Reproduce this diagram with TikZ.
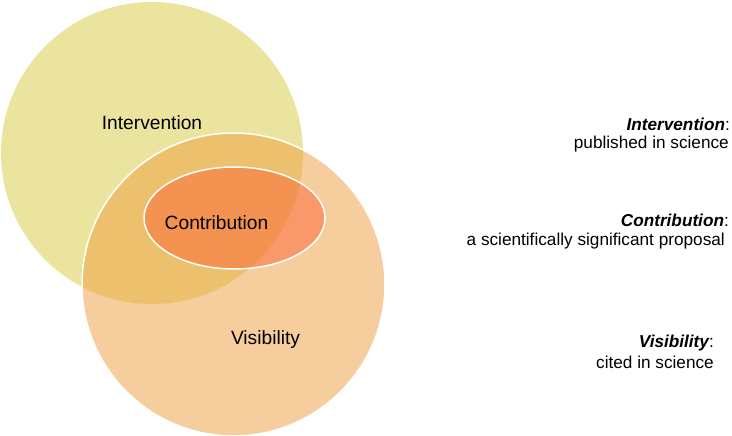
\documentclass[tikz,border=0pt]{standalone}
\usepackage{fontspec}
\setmainfont{Liberation Sans}
\definecolor{intercol}{RGB}{235,228,158}
\definecolor{viscol}{RGB}{237,157,61}
\definecolor{contcol}{RGB}{252,102,54}
\tikzset{
  setname/.style={inner sep=0pt,anchor=base,font=\fontsize{19.2}{23}\selectfont},
  defhead/.style={inner sep=0pt,anchor=base east,font=\fontsize{17.2}{20}\selectfont\bfseries\itshape},
  deftext/.style={inner sep=0pt,anchor=base east,font=\fontsize{17.2}{20}\selectfont}
}
\begin{document}
\begin{tikzpicture}[x=1pt,y=-1pt]
\useasboundingbox (0,0) rectangle (732,436);
% the three sets
\fill[intercol] (152,153) circle [radius=151pt];
\draw[white,line width=1.5pt,fill=viscol,fill opacity=0.5] (233.5,284.5) circle [radius=151.5pt];
\draw[white,line width=1.5pt,fill=contcol,fill opacity=0.5] (234.5,218) ellipse [x radius=90.5pt,y radius=51pt];
\node[setname] (inter) at (152,129) {Intervention};
\node[setname] (cont) at (216.5,229) {Contribution};
\node[setname] (vis) at (265.5,344) {Visibility};
% definitions
\node[defhead] (interhead) at (730,131) {Intervention\textmd{\upshape:}};
\node[deftext] (intertext) at (729,149) {published in science};
\node[defhead] (conthead) at (729,226) {Contribution\textmd{\upshape:}};
\node[deftext] (conttext) at (725,245) {a scientifically significant proposal};
\node[defhead] (vishead) at (714,347) {Visibility\textmd{\upshape:}};
\node[deftext] (vistext) at (714,368) {cited in science};
\end{tikzpicture}
\end{document}
